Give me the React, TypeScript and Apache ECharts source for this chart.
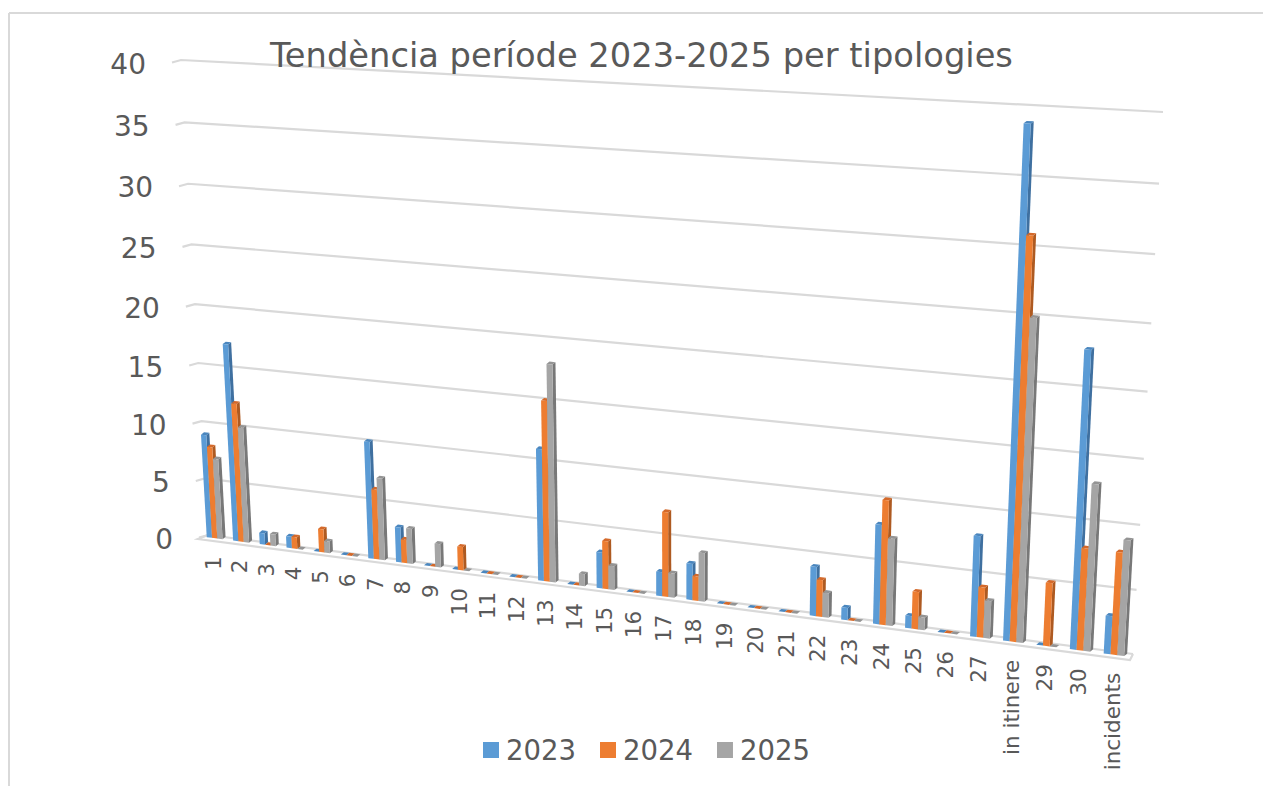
import React, { useEffect, useRef } from "react";
import * as echarts from "echarts";

const categories = ["1","2","3","4","5","6","7","8","9","10","11","12","13","14","15","16","17","18","19","20","21","22","23","24","25","26","27","in itinere","29","30","incidents"];
const values2023 = [9,17,1,1,0,0,10,3,0,0,0,0,11,0,3,0,2,3,0,0,0,4,1,8,1,0,8,39,0,23,3];
const values2024 = [8,12,0,1,2,0,6,2,0,2,0,0,15,0,4,0,7,2,0,0,0,3,0,10,3,0,4,31,5,8,8];
const values2025 = [7,10,1,0,1,0,7,3,2,0,0,0,18,1,2,0,2,4,0,0,0,2,0,7,1,0,3,25,0,13,9];
const yTicks = [0,5,10,15,20,25,30,35,40];
const seriesNames = ["2023","2024","2025"];
const frontColors = ["#5B9BD5","#ED7D31","#A5A5A5"];
const sideColors = ["#3F70A0","#AE5A21","#787878"];
const topColors = ["#4A86BE","#D4692A","#949494"];
const FONT = "'DejaVu Sans', Verdana, sans-serif";
const TEXT = "#595959";
const LINE = "#D9D9D9";

type P = [number, number];
function quad(p0: P, p1: P, p2: P, p3: P) {
  const [x0,y0]=p0,[x1,y1]=p1,[x2,y2]=p2,[x3,y3]=p3;
  const dx1=x1-x2,dx2=x3-x2,sx=x0-x1+x2-x3,dy1=y1-y2,dy2=y3-y2,sy=y0-y1+y2-y3;
  const det=dx1*dy2-dx2*dy1;
  const g=(sx*dy2-dx2*sy)/det,h=(dx1*sy-sx*dy1)/det;
  const a=x1-x0+g*x1,b=x3-x0+h*x3,d=y1-y0+g*y1,e=y3-y0+h*y3;
  return (u:number,v:number):P=>{
    const w=g*u+h*v+1;
    return [(a*u+b*v+x0)/w,(d*u+e*v+y0)/w];
  };
}
// projection planes: corners are (u=0,v=0),(u=1,v=0),(u=1,v=1),(u=0,v=1)
const wall = quad([208,535],[1133,654],[1163,112],[181,60]);
const barPlane = quad([201.5,536.5],[1131,657],[1161,117],[174.5,61]);

function norm(params:any, p:number[]):[number,number]{
  const cs=params.coordSys;
  return [(p[0]-cs.x)/cs.width, 1-(p[1]-cs.y)/cs.height];
}

export default function App(){
  const ref=useRef<HTMLDivElement>(null);
  useEffect(()=>{
    const chart=echarts.init(ref.current!,undefined,{renderer:"svg"});
    const barSeries=seriesNames.map((name,k)=>({
      type:"custom",
      name,
      coordinateSystem:"cartesian2d",
      itemStyle:{color:frontColors[k]},
      encode:{x:0,y:1},
      data:[values2023,values2024,values2025][k].map((v,i)=>[i,v]),
      z:3+k,
      renderItem:(params:any,api:any)=>{
        const cat=api.value(0),val=api.value(1);
        const top=api.coord([cat,val]);
        const base=api.coord([cat,0]);
        const band=api.size([1,0])[0];
        const [,vt]=norm(params,top);
        const [,vb]=norm(params,base);
        const [uL]=norm(params,[top[0]+band*(-0.3+0.2*k),0]);
        const [uR]=norm(params,[top[0]+band*(-0.1+0.2*k),0]);
        const bl=barPlane(uL,vb),br=barPlane(uR,vb),tl=barPlane(uL,vt),tr=barPlane(uR,vt);
        const dx=3,dy=-2.4;
        const off=(p:P):number[]=>[p[0]+dx,p[1]+dy];
        const children:any[]=[];
        children.push({type:"polygon",shape:{points:[br,tr,off(tr),off(br)]},style:{fill:sideColors[k]}});
        children.push({type:"polygon",shape:{points:[tl,tr,off(tr),off(tl)]},style:{fill:topColors[k]}});
        if(val>0)children.push({type:"polygon",shape:{points:[bl,br,tr,tl]},style:{fill:frontColors[k]}});
        return {type:"group",children};
      },
    }));
    chart.setOption({
      animation:false,
      backgroundColor:"#fff",
      color:frontColors,
      title:{text:"Tendència període 2023-2025 per tipologies",left:270,top:38,padding:0,
        textStyle:{fontFamily:FONT,fontSize:33.7,fontWeight:"normal",color:TEXT}},
      legend:{data:seriesNames,left:483,top:736,padding:0,itemWidth:16,itemHeight:16,itemGap:24,icon:"rect",
        selectedMode:false,textStyle:{fontFamily:FONT,fontSize:27.5,color:TEXT,padding:[0,0,0,2]}},
      grid:{left:100,top:100,width:1000,height:500},
      xAxis:{type:"category",data:categories,show:false},
      yAxis:{type:"value",min:0,max:40,interval:5,show:false},
      graphic:[
        {type:"line",shape:{x1:9,y1:786,x2:9,y2:13},style:{stroke:LINE,lineWidth:2}},
        {type:"line",shape:{x1:9,y1:13,x2:1263,y2:13},style:{stroke:LINE,lineWidth:2}},
      ],
      series:[
        {
          type:"custom",name:"grid",coordinateSystem:"cartesian2d",silent:true,z:1,encode:{y:0},
          data:yTicks.map(t=>[t]),
          renderItem:(params:any,api:any)=>{
            const t=api.value(0);
            const [,v]=norm(params,api.coord([0,t]));
            const a=wall(0,v),b=wall(1,v);
            const children:any[]=[
              {type:"polyline",shape:{points:[[a[0]-9,a[1]+2.5],a,b]},style:{stroke:LINE,lineWidth:2.2,fill:"none"}},
              {type:"text",x:a[0]-35,y:a[1]+4,style:{text:String(t),fontFamily:FONT,fontSize:28,fill:TEXT,align:"right",verticalAlign:"middle"}},
            ];
            if(t===0){
              children.push({type:"polyline",shape:{points:[[1133,654],[1130,660],[198,539],[208,535]]},style:{stroke:LINE,lineWidth:2.2,fill:"none"}});
            }
            return {type:"group",children};
          },
        },
        {
          type:"custom",name:"labels",coordinateSystem:"cartesian2d",silent:true,z:2,encode:{x:0},
          data:categories.map((c,i)=>[i,c]),
          renderItem:(params:any,api:any)=>{
            const i=api.value(0);
            const [u]=norm(params,api.coord([i,0]));
            const p=barPlane(u,0);
            return {type:"text",x:p[0]-1.5,y:p[1]+18,rotation:Math.PI/2,
              style:{text:categories[i],fontFamily:FONT,fontSize:21.5,fill:TEXT,align:"right",verticalAlign:"middle"}};
          },
        },
        ...barSeries,
      ],
    });
    return ()=>chart.dispose();
  },[]);
  return <div ref={ref} style={{position:"fixed",left:0,top:0,width:1263,height:786}}/>;
}
